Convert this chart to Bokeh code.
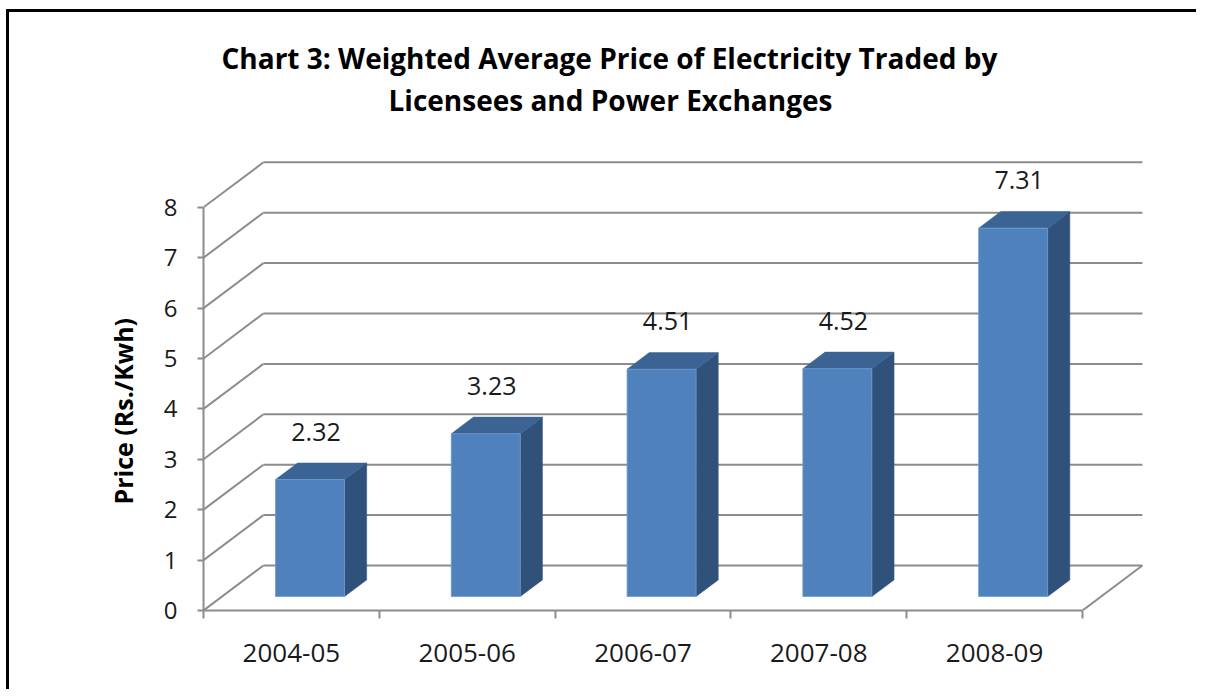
from bokeh.plotting import figure
from bokeh.models import Range1d, FixedTicker, Title, ColumnDataSource, Label
from bokeh.core.properties import value
from bokeh.embed import file_html
from bokeh.resources import INLINE

# ---- data ----
categories = ["2004-05", "2005-06", "2006-07", "2007-08", "2008-09"]
prices = [2.32, 3.23, 4.51, 4.52, 7.31]
y_ticks = [0, 1, 2, 3, 4, 5, 6, 7, 8]
title_line1 = "Chart 3: Weighted Average Price of Electricity Traded by"
title_line2 = "Licensees and Power Exchanges"
y_label = "Price (Rs./Kwh)"

# ---- style / projection constants ----
FONT = "Open Sans"
GRID = "#8c8c8c"
FRONT = "#4F81BD"
TOP = "#3B6393"
SIDE = "#30527A"
DX = 0.341      # depth of the floor, in category units
DY = 0.893      # depth of the floor, in value units
BAR_W = 0.3925  # bar width, category units
F0 = 0.31       # front of the bars as fraction of depth
FD = 0.37       # bar depth as fraction of depth

n = len(categories)
centers = [i + 0.5 for i in range(n)]

p = figure(width=1190, height=680,
           x_range=Range1d(0, 5.387), y_range=Range1d(0, 10.417),
           output_backend="svg", toolbar_location=None, title=None,
           min_border_left=194, min_border_right=49,
           min_border_top=73, min_border_bottom=82)
p.xgrid.visible = False
p.ygrid.visible = False
p.outline_line_color = None
p.background_fill_color = "white"
p.border_fill_color = "white"

# first title line above the plot area
p.add_layout(Title(text=title_line1, align="left", offset=18, standoff=18,
                   text_font=FONT, text_font_size="28px", text_font_style="bold",
                   text_color="black"), "above")

# x axis: labels at centres, ticks at boundaries
xa = p.xaxis[0]
xa.ticker = FixedTicker(ticks=centers, minor_ticks=list(range(n + 1)))
xa.major_label_overrides = {c: cat for c, cat in zip(centers, categories)}
xa.bounds = (0, n)
xa.axis_line_color = GRID
xa.axis_line_width = 2
xa.major_tick_line_color = None
xa.major_tick_out = 0
xa.major_tick_in = 0
xa.minor_tick_line_color = GRID
xa.minor_tick_line_width = 2
xa.minor_tick_out = 8
xa.minor_tick_in = 0
xa.major_label_standoff = 25
xa.major_label_text_font = FONT
xa.major_label_text_font_size = "26px"
xa.major_label_text_color = "#1a1a1a"

ya = p.yaxis[0]
ya.ticker = FixedTicker(ticks=y_ticks, minor_ticks=[])
ya.bounds = (0, 8)
ya.axis_line_color = GRID
ya.axis_line_width = 2
ya.major_tick_line_color = GRID
ya.major_tick_line_width = 2
ya.major_tick_out = 6
ya.major_tick_in = 0
ya.minor_tick_line_color = None
ya.major_label_standoff = 20
ya.major_label_text_font = FONT
ya.major_label_text_font_size = "24px"
ya.major_label_text_color = "#1a1a1a"

# y axis title on the left, placed along the 0-8 scale
p.add_layout(Title(text=y_label, align="left", offset=106, standoff=42,
                   text_font=FONT, text_font_size="25px", text_font_style="bold",
                   text_color="black"), "left")

# second title line, inside the top of the plot area
p.add_layout(Label(x=2.315, y=10.12, text=title_line2,
                   text_align="center", text_baseline="middle",
                   text_font=FONT, text_font_size="28px", text_font_style="bold",
                   text_color="black"))

# walls: diagonals on the side wall and lines on the back wall
p.segment(x0=[0] * len(y_ticks), y0=y_ticks,
          x1=[DX] * len(y_ticks), y1=[t + DY for t in y_ticks],
          line_color=GRID, line_width=2)
p.segment(x0=[DX] * len(y_ticks), y0=[t + DY for t in y_ticks],
          x1=[n + DX] * len(y_ticks), y1=[t + DY for t in y_ticks],
          line_color=GRID, line_width=2)
p.segment(x0=[n], y0=[0], x1=[n + DX], y1=[DY], line_color=GRID, line_width=2)

# bars
left = [c - BAR_W / 2 + F0 * DX for c in centers]
right = [c + BAR_W / 2 + F0 * DX for c in centers]
bottom = F0 * DY
tops = [v + F0 * DY for v in prices]
ddx, ddy = FD * DX, FD * DY

side_xs = [[r, r, r + ddx, r + ddx] for r in right]
side_ys = [[bottom, t, t + ddy, bottom + ddy] for t in tops]
top_xs = [[l, r, r + ddx, l + ddx] for l, r in zip(left, right)]
top_ys = [[t, t, t + ddy, t + ddy] for t in tops]

p.patches(xs=side_xs, ys=side_ys, fill_color=SIDE, line_color=SIDE, line_width=0.5)
p.patches(xs=top_xs, ys=top_ys, fill_color=TOP, line_color=TOP, line_width=0.5)
p.quad(left=left, right=right, bottom=[bottom] * n, top=tops,
       fill_color=FRONT, line_color="#6f9bd0", line_width=0.8)

# data labels
src = ColumnDataSource(dict(x=[c + 0.14 for c in centers], y=tops,
                            t=[f"{v:.2f}" for v in prices]))
p.text(x="x", y="y", text="t", source=src, y_offset=-48,
       text_align="center", text_baseline="middle",
       text_font=value(FONT), text_font_size="25px", text_color="#1a1a1a")

p.styles = {"margin-left": "6px", "margin-top": "9px",
            "border-top": "3px solid black", "border-left": "3px solid black"}

open("out.html", "w").write(file_html(p, INLINE))
